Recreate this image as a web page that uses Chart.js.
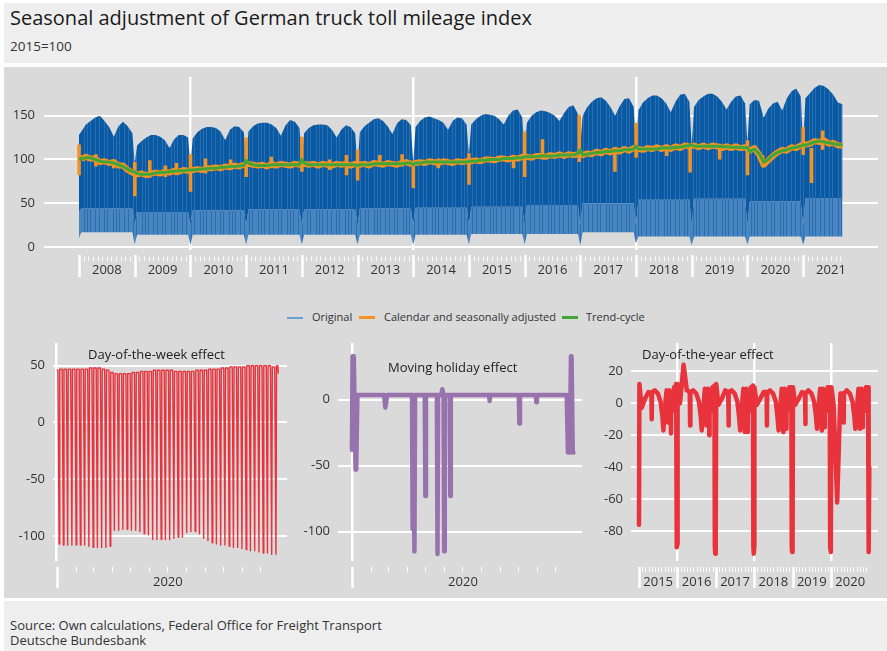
<!DOCTYPE html>
<html>
<head>
<meta charset="utf-8">
<title>Seasonal adjustment of German truck toll mileage index</title>
<script src="https://cdn.jsdelivr.net/npm/chart.js@4.4.1/dist/chart.umd.min.js"></script>
<style>
  body { margin: 0; background: #fff; }
  #wrap { position: relative; width: 887px; height: 651px; overflow: hidden; font-family: 'Open Sans', sans-serif; color: #222; }
  .blk { position: absolute; }
  .txt { position: absolute; white-space: nowrap; line-height: 1; }
  canvas { position: absolute; }
  .sw { position: absolute; width: 16px; }
</style>
</head>
<body>
<div id="wrap">
  <div class="blk" style="left:4px;top:3px;width:883px;height:60px;background:#eeeeee"></div>
  <div class="blk" style="left:4px;top:67px;width:883px;height:531px;background:#dadada"></div>
  <div class="blk" style="left:4px;top:601px;width:883px;height:50px;background:#eeeeee"></div>

  <div class="txt" style="left:10px;top:8px;font-size:20px;color:#1a1a1a">Seasonal adjustment of German truck toll mileage index</div>
  <div class="txt" style="left:10px;top:40px;font-size:13.5px;color:#333">2015=100</div>

  <canvas id="top" width="887" height="215" style="left:0;top:70px"></canvas>

  <div class="sw" style="left:287px;top:317px;height:1.5px;background:#6c9fd2"></div>
  <div class="txt" style="left:312px;top:311px;font-size:11px;color:#333">Original</div>
  <div class="sw" style="left:359px;top:316px;height:3px;background:#f39323"></div>
  <div class="txt" style="left:384px;top:311px;font-size:11px;color:#333">Calendar and seasonally adjusted</div>
  <div class="sw" style="left:562px;top:316px;height:3px;background:#43a537"></div>
  <div class="txt" style="left:586px;top:311px;font-size:11px;color:#333">Trend-cycle</div>

  <canvas id="dow" width="295" height="254" style="left:0;top:336px"></canvas>
  <canvas id="hol" width="295" height="254" style="left:295px;top:336px"></canvas>
  <canvas id="doy" width="297" height="254" style="left:590px;top:336px"></canvas>

  <div class="txt" style="left:88px;top:348px;font-size:13px;color:#222">Day-of-the-week effect</div>
  <div class="txt" style="left:388px;top:361px;font-size:13px;color:#222">Moving holiday effect</div>
  <div class="txt" style="left:642px;top:348px;font-size:13px;color:#222">Day-of-the-year effect</div>

  <div class="txt" style="left:10px;top:619px;font-size:13px;color:#333">Source: Own calculations, Federal Office for Freight Transport</div>
  <div class="txt" style="left:10px;top:634px;font-size:13px;color:#333">Deutsche Bundesbank</div>
</div>

<script>
// ---------- top panel: monthly readings, Jan 2008 .. Sep 2021 ----------
const firstYear = 2008;

// upper edge of the original daily series (weekday level)
const origHigh = [
  132,140,144,148,150,144,137,126,138,143,138,130, // 2008
  116,121,125,128,128,126,122,113,123,128,128,125, // 2009
  124,131,135,137,137,136,132,122,134,138,137,131, // 2010
  132,138,141,142,142,140,136,127,139,145,143,136, // 2011
  130,136,139,140,140,139,134,125,134,139,137,130, // 2012
  131,138,142,146,147,144,138,129,141,146,145,139, // 2013
  137,144,148,149,147,145,142,134,144,148,147,140, // 2014
  140,146,150,152,151,150,146,140,150,156,157,148, // 2015
  142,150,154,156,155,153,150,144,153,160,162,152, // 2016
  150,160,166,170,171,167,160,150,161,169,170,160, // 2017
  156,165,170,173,173,170,164,154,166,174,175,166, // 2018
  160,168,172,175,175,172,166,157,166,172,173,164, // 2019
  163,168,167,148,158,164,166,156,170,178,181,172, // 2020
  170,176,182,185,184,180,174,165,163              // 2021
];
// saturday level and sunday level, read per year
const origSatYearly = [44, 40, 42, 43, 43, 44, 45, 46, 48, 50, 54, 55, 52, 56];
const origLowYearly = [17, 14, 14, 14, 14, 14, 14, 15, 15, 17, 12, 12, 12, 12];

// turn of the year (christmas / new year) readings
const boundaryYears = [2008, 2009, 2010, 2011, 2012, 2013, 2014, 2015, 2016, 2017, 2018, 2019, 2020, 2021];
const xmasHigh  = [128, 95, 92, 100, 98, 92, 95, 105, 110, 115, 112, 115, 118, 115];
const xmasSat   = [40, 25, 25, 25, 25, 25, 25, 25, 25, 25, 25, 25, 25, 25];
const xmasLow   = [10, 3, 2, 3, 3, 3, 2, 3, 3, 2, 4, 2, 3, 3];
const trendXmas = [100, 86, 88, 99, 100, 93, 94, 98, 103, 111, 115, 117, 114, 117];

const adjusted = [
  101,103,101,101,97,98,96,97,93,93,88,85,
  83,84,82,84,85,84,86,85,87,86,88,87,
  88,89,88,90,90,91,90,92,91,93,92,94,
  95,94,93,94,92,95,93,95,94,93,95,94,
  95,94,95,93,95,94,93,95,94,95,93,95,
  94,95,93,96,95,94,96,95,94,96,97,95,
  96,97,96,98,97,96,98,97,96,98,97,98,
  98,99,98,100,100,99,101,101,100,102,101,103,
  103,102,104,104,103,105,104,106,104,106,105,106,
  105,107,106,109,107,110,108,111,109,112,110,113,
  112,111,113,112,114,112,114,112,115,113,116,115,
  116,114,116,114,116,115,113,115,113,115,113,114,
  110,113,106,94,99,104,108,111,110,114,113,116,
  117,118,121,120,122,118,119,116,116
];
const trend = [
  101,102,102,100,98,97,97,96,94,92,89,86,
  84,83,83,83.5,84.5,85,85.5,86,86.5,87,87,88,
  88,88.5,89,89.5,90,90,91,91,92,92,92.5,93,
  96,94,93,93,93,94,94,94,94,94,94,94,
  96,94,94,94,94,94,94,94,94,94,94,94,
  94,94,94,95,95,95,95,95,95,95,96,96,
  96,96,97,97,97,97,97,97,97,97,97,97,
  98,98,99,99,100,100,100,101,101,101,102,102,
  103,103,103,104,104,104,104,105,105,105,105,107,
  105,106,107,108,108,109,109,110,110,111,111,112,
  112,112,112,112,112,113,113,113,114,114,115,116,
  115,115,115,115,115,115,114.5,114.5,114,114,114,113.5,
  109,112,107,97,100,105,108,110,111,113,114,115,
  116,118,120,121,120,119,118,117,116.5
];
// short spikes of the adjusted series (decimal year, high, low)
const spikeAt   = [2008.0, 2008.3, 2008.62, 2009.0, 2009.27, 2009.55, 2009.75, 2010.0, 2010.27, 2010.72, 2011.0, 2011.45,
                   2012.0, 2012.5, 2012.8, 2013.0, 2013.4, 2013.8, 2014.0, 2014.45, 2015.0, 2015.8, 2016.0, 2016.32,
                   2016.98, 2017.62, 2018.0, 2018.55, 2018.97, 2019.5, 2020.0, 2020.27, 2021.0, 2021.15, 2021.35];
const spikeHigh = [117, 106, 100, 97, 99, 93, 96, 106, 101, 100, 125, 103,
                   126, 100, 105, 111, 105, 106, 98, 101, 107, 104, 132, 123,
                   151, 113, 142, 117, 117, 118, 122, 105, 137, 113, 133];
const spikeLow  = [82, 92, 90, 58, 79, 80, 82, 63, 84, 88, 80, 90,
                   86, 88, 82, 76, 92, 92, 67, 90, 71, 90, 80, 100,
                   97, 86, 102, 104, 85, 100, 82, 92, 105, 73, 111];

const topYTicks = [0, 50, 100, 150];
const topGridYears = [2010, 2014, 2018];
const topLabelYears = [2008, 2009, 2010, 2011, 2012, 2013, 2014, 2015, 2016, 2017, 2018, 2019, 2020, 2021];

// ---------- day-of-the-week effect, 2020 (day 0 = 1 Jan) ----------
const dowPeak = [46, 47,47,47,47,47,47,47, 48,48,48, 47,46,
                 44,43,43,43,43,44,44,
                 45,45,45,46,46,46,46,46,45,45,45,45,45,
                 46,46,46,47,47,47,
                 48,48,49,49,49,49,50,50,50,50,50,50, 49, 50];
const dowTrough = [-107,-108,-108,-108,-108,-108,-108,-109,-110,-110,-110,-110,-109,
                   -95,-95,-94,-94,-95,-95,-96,-98,-99,
                   -103,-103,-103,-103,-103,-102,-101,-101,
                   -97,-96,-96,-98,
                   -102,-104,-106,-107,-108,-108,-109,-110,-110,-111,-112,-113,-113,-114,-115,-115,-116,-116];
const dowLast = 43;

// ---------- moving holiday effect, 2020 ----------
const holDays   = [0, 1, 3, 6, 7, 9, 53, 55, 56, 58, 99, 100, 101, 102, 103, 104, 120, 121, 122, 140, 141, 142,
                   147, 149, 150, 151, 152, 153, 161, 162, 163, 226, 227, 228, 275, 276, 277, 303, 304, 305,
                   354, 356, 359, 361, 362, 364, 365];
const holValues = [-38, 33, 33, -53, -53, 3.5, 3.5, -6, -6, 3.5, 3.5, -98, 3.5, 3.5, -115, 3.5, 3.5, -73, 3.5, 3.5, -117, 3.5,
                   3.5, 8, 8, 3.5, -115, 3.5, 3.5, -73, 3.5, 3.5, -1, 3.5, 3.5, -18, 3.5, 3.5, -2, 3.5,
                   3.5, -40, -40, 33, 33, -40, -40];
const monthStartDays = [31, 60, 91, 121, 152, 182, 213, 244, 274, 305, 335];

// ---------- day-of-the-year effect, 2015-2020 ----------
const doyYears = [2015, 2016, 2017, 2018, 2019, 2020];
const doyDays = [0, 4, 25, 59, 90, 118, 121, 124, 150, 180, 205, 222, 232, 245, 262, 273, 276, 279, 290, 301, 304, 307, 320, 333, 345, 353, 357, 361, 365];
const doy2015 = [-76, 12, -3, 3, 7, 6, -10, 7, 8, 6, 1, -8, -17, -4, 8, 6, -12, 5, 8, 0, -19, 7, -5, 10, 9, 12, -85, -90, -88];
const doy2016 = [-85, 12, 0, 24, 8, 7, -14, 7, 8, 6, 1, -8, -17, -5, 9, 6, -14, 6, 9, 0, -20, 8, -5, 10, 10, 11, -90, -94, -90];
const doy2017 = [-85, 12, -1, 3, 8, 7, -14, 7, 8, 6, 1, -9, -17, -5, 9, 6, -18, 6, 9, 0, -18, 8, -5, 10, 10, 11, -90, -94, -90];
const doy2018 = [-85, 10, -1, 3, 7, 7, -14, 6, 8, 6, 1, -9, -17, -5, 9, 6, -18, 5, 9, 0, -16, 8, -5, 10, 10, 10, -90, -93, -90];
const doy2019 = [-85, 10, -1, 3, 7, 6, -13, 6, 8, 6, 1, -8, -16, -5, 9, 6, -17, 5, 9, 0, -15, 8, -5, 10, 10, 10, -90, -93, -90];
const doy2020 = [-85, 10, -1, -62, 6, 6, -12, 6, 8, 6, 1, -8, -16, -5, 9, 6, -16, 5, 9, 0, -15, 8, -5, 10, 10, 10, -90, -93, -40];
const doyGridYears = [2016, 2018, 2020];

// ---------- colours ----------
const orange = '#f39323';
const green = '#43a537';
const red = '#e8323c';
const purple = '#9872ad';

Chart.defaults.font.family = "'Open Sans', sans-serif";
Chart.defaults.font.size = 13;
Chart.defaults.color = '#333';
Chart.defaults.animation = false;
Chart.defaults.plugins.legend.display = false;
Chart.defaults.plugins.tooltip.enabled = false;

// thin vertical streaks, like the many daily strokes of the original series
function streaks(base, streak) {
  const c = document.createElement('canvas');
  c.width = 29; c.height = 4;
  const g = c.getContext('2d');
  g.fillStyle = base; g.fillRect(0, 0, 29, 4);
  g.fillStyle = streak;
  [0, 3, 8, 12, 17, 20, 26].forEach(x => g.fillRect(x, 0, 1, 4));
  return g.createPattern(c, 'repeat');
}

// white year / month marks under the plot, placed through the x scale
const axisMarks = {
  id: 'axisMarks',
  afterDraw(chart, args, opts) {
    const { ctx, chartArea } = chart;
    const x = chart.scales.x;
    ctx.save();
    ctx.strokeStyle = '#ffffff';
    const draw = (values, width, from, to) => {
      ctx.lineWidth = width;
      values.forEach(v => {
        const px = Math.round(x.getPixelForValue(v)) + 0.5;
        ctx.beginPath();
        ctx.moveTo(px, chartArea.bottom + from);
        ctx.lineTo(px, chartArea.bottom + to);
        ctx.stroke();
      });
    };
    draw(opts.minor, 1, opts.minorFrom, opts.minorTo);
    draw(opts.major, 2.5, opts.majorFrom, opts.majorTo);
    ctx.restore();
  }
};

function fixedY(width, ticks, padding) {
  return {
    afterBuildTicks: s => { s.ticks = ticks.map(v => ({ value: v })); },
    ticks: { padding: padding },
    grid: { color: '#ffffff', lineWidth: 2, drawTicks: false },
    border: { display: false },
    afterFit: s => { s.width = width; s.paddingTop = 0; s.paddingBottom = 0; }
  };
}

function fixedX(min, max, height, gridAt, labelAt, label, padding) {
  return {
    type: 'linear', min: min, max: max,
    afterBuildTicks: s => {
      s.ticks = gridAt.concat(labelAt).sort((a, b) => a - b).map(v => ({ value: v }));
    },
    ticks: { autoSkip: false, maxRotation: 0, padding: padding, callback: v => label(v) },
    grid: { color: c => gridAt.includes(c.tick.value) ? '#ffffff' : 'rgba(0,0,0,0)', lineWidth: 2.5, drawTicks: false },
    border: { display: false },
    afterFit: s => { s.height = height; s.paddingLeft = 0; s.paddingRight = 0; }
  };
}

// ---------- top chart ----------
const monthX = i => firstYear + (i + 0.5) / 12;
function envelope(monthly, atTurn) {
  const pts = monthly.map((v, i) => ({ x: monthX(i), y: v }));
  boundaryYears.forEach((yr, k) => pts.push({ x: yr, y: atTurn[k] }));
  return pts.sort((a, b) => a.x - b.x);
}
const satMonthly = origHigh.map((v, i) => origSatYearly[Math.floor(i / 12)]);
const lowMonthly = origHigh.map((v, i) => origLowYearly[Math.floor(i / 12)]);

const adjustedPts = adjusted.map((v, i) => ({ x: monthX(i), y: v }));
const spikePts = [];
spikeAt.forEach((t, k) => {
  spikePts.push({ x: t, y: spikeHigh[k] }, { x: t + 0.002, y: spikeLow[k] }, { x: t + 0.002, y: null });
});

const trendPts = envelope(trend, trendXmas);

const topMinor = [];
topLabelYears.forEach(yr => {
  for (let m = 1; m < 12; m++) if (yr + m / 12 < 2021.7) topMinor.push(yr + m / 12);
});

new Chart(document.getElementById('top'), {
  type: 'line',
  data: {
    datasets: [
      { label: 'Trend-cycle', data: trendPts, borderColor: green, borderWidth: 3, pointRadius: 0,
        borderJoinStyle: 'round', order: 0 },
      { label: 'Calendar and seasonally adjusted', data: adjustedPts, borderColor: orange, borderWidth: 6,
        pointRadius: 0, borderJoinStyle: 'round', order: 1 },
      { label: 'Calendar and seasonally adjusted (spikes)', data: spikePts, borderColor: orange, borderWidth: 3.5,
        pointRadius: 0, spanGaps: false, borderCapStyle: 'butt', order: 1 },
      { label: 'Original', data: envelope(origHigh, xmasHigh), borderWidth: 0, pointRadius: 0,
        fill: '+1', backgroundColor: streaks('#0a5aa3', '#2a6fb3'), order: 2 },
      { label: 'Original (weekend)', data: envelope(satMonthly, xmasSat), borderWidth: 0, pointRadius: 0,
        fill: '+1', backgroundColor: streaks('#4985c1', '#2a6db1'), order: 3 },
      { label: 'Original (sunday)', data: envelope(lowMonthly, xmasLow), borderWidth: 0, pointRadius: 0,
        fill: false, order: 4 }
    ]
  },
  options: {
    responsive: false,
    layout: { padding: { top: 7, right: 9, left: 0, bottom: 0 } },
    scales: {
      x: fixedX(2007.3716, 2022.3447, 35, topGridYears, topLabelYears.map(y => y + 0.5),
                v => Number.isInteger(v) ? '' : String(Math.floor(v)), 12),
      y: Object.assign({ min: -3.4, max: 194.2 }, fixedY(44, topYTicks, 9))
    },
    plugins: {
      axisMarks: { major: topLabelYears, minor: topMinor, majorFrom: 5, majorTo: 27, minorFrom: 6.5, minorTo: 11 }
    }
  },
  plugins: [axisMarks]
});

// ---------- bottom panels ----------
const dayLabel = v => v === 183 ? '2020' : '';

const dowPts = [];
dowPeak.forEach((p, j) => {
  const start = j === 0 ? 0 : 7 * j - 2;
  const end = j === dowPeak.length - 1 ? 364 : 7 * j + 2;
  dowPts.push({ x: start, y: p }, { x: end, y: p });
  if (j < dowTrough.length) dowPts.push({ x: 7 * j + 4, y: dowTrough[j] });
});
dowPts.push({ x: 365, y: dowLast });

new Chart(document.getElementById('dow'), {
  type: 'line',
  data: { datasets: [{ label: 'Day-of-the-week effect', data: dowPts, borderColor: red, borderWidth: 1.4,
    pointRadius: 0, borderJoinStyle: 'round' }] },
  options: {
    responsive: false,
    layout: { padding: { top: 7, right: 8, left: 0, bottom: 0 } },
    scales: {
      x: fixedX(-6.1, 379.2, 29, [0], [183], dayLabel, 13),
      y: Object.assign({ min: -122, max: 70 }, fixedY(53, [50, 0, -50, -100], 8))
    },
    plugins: { axisMarks: { major: [0], minor: monthStartDays, majorFrom: 6, majorTo: 27, minorFrom: 6, minorTo: 11 } }
  },
  plugins: [axisMarks]
});

new Chart(document.getElementById('hol'), {
  type: 'line',
  data: { datasets: [{ label: 'Moving holiday effect', data: holDays.map((d, i) => ({ x: d, y: holValues[i] })),
    borderColor: purple, borderWidth: 4.5, pointRadius: 0, borderJoinStyle: 'round', borderCapStyle: 'round' }] },
  options: {
    responsive: false,
    layout: { padding: { top: 7, right: 8, left: 0, bottom: 0 } },
    scales: {
      x: fixedX(-23, 379.2, 29, [0], [183], dayLabel, 13),
      y: Object.assign({ min: -122.3, max: 43 }, fixedY(43, [0, -50, -100], 8))
    },
    plugins: { axisMarks: { major: [0], minor: monthStartDays, majorFrom: 6, majorTo: 27, minorFrom: 6, minorTo: 11 } }
  },
  plugins: [axisMarks]
});

const doyRows = [doy2015, doy2016, doy2017, doy2018, doy2019, doy2020];
const doyPts = [];
doyYears.forEach((yr, k) => {
  const len = yr % 4 === 0 ? 366 : 365;
  doyDays.forEach((d, i) => doyPts.push({ x: yr + d / len, y: doyRows[k][i] }));
});
const doyMinor = [];
doyYears.forEach(yr => { for (let m = 1; m < 12; m++) doyMinor.push(yr + m / 12); });

new Chart(document.getElementById('doy'), {
  type: 'line',
  data: { datasets: [{ label: 'Day-of-the-year effect', data: doyPts, borderColor: red, borderWidth: 4.5,
    pointRadius: 0, borderJoinStyle: 'round', borderCapStyle: 'round' }] },
  options: {
    responsive: false,
    layout: { padding: { top: 7, right: 9, left: 0, bottom: 0 } },
    scales: {
      x: fixedX(2014.792, 2021.224, 29, doyGridYears, doyYears.map(y => y + 0.5),
                v => Number.isInteger(v) ? '' : String(Math.floor(v)), 13),
      y: Object.assign({ min: -98.6, max: 37.6 }, fixedY(41, [20, 0, -20, -40, -60, -80], 8))
    },
    plugins: { axisMarks: { major: doyYears, minor: doyMinor, majorFrom: 6, majorTo: 27, minorFrom: 6, minorTo: 11 } }
  },
  plugins: [axisMarks]
});
</script>
</body>
</html>
